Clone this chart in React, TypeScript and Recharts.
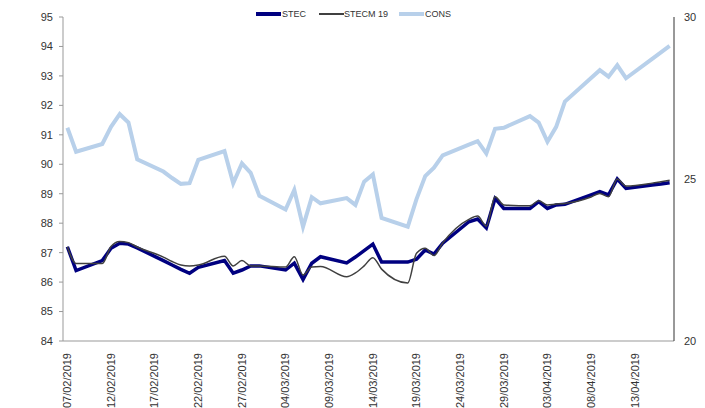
import React from "react";
import { LineChart, Line, XAxis, YAxis } from "recharts";

const dates = [
  "07/02/2019","08/02/2019","11/02/2019","12/02/2019","13/02/2019","14/02/2019","15/02/2019",
  "18/02/2019","19/02/2019","20/02/2019","21/02/2019","22/02/2019",
  "25/02/2019","26/02/2019","27/02/2019","28/02/2019","01/03/2019",
  "04/03/2019","05/03/2019","06/03/2019","07/03/2019","08/03/2019",
  "11/03/2019","12/03/2019","13/03/2019","14/03/2019","15/03/2019",
  "18/03/2019","19/03/2019","20/03/2019","21/03/2019","22/03/2019",
  "25/03/2019","26/03/2019","27/03/2019","28/03/2019","29/03/2019",
  "01/04/2019","02/04/2019","03/04/2019","04/04/2019","05/04/2019",
  "08/04/2019","09/04/2019","10/04/2019","11/04/2019","12/04/2019",
  "15/04/2019","16/04/2019","17/04/2019",
];

const stec = [
  87.20, 86.39, 86.73, 87.15, 87.32, 87.29, 87.16,
  86.73, 86.58, 86.43, 86.30, 86.50,
  86.73, 86.30, 86.41, 86.55, 86.55,
  86.41, 86.64, 86.09, 86.64, 86.86,
  86.65, 86.85, 87.07, 87.29, 86.68,
  86.68, 86.78, 87.09, 86.95, 87.32,
  88.05, 88.14, 87.84, 88.84, 88.50,
  88.50, 88.73, 88.50, 88.62, 88.64,
  88.96, 89.07, 88.96, 89.50, 89.18,
  89.30, 89.33, 89.37,
];

const stecm19 = [
  87.20, 86.63, 86.63, 87.21, 87.38, 87.34, 87.19,
  86.85, 86.70, 86.58, 86.55, 86.58,
  86.88, 86.55, 86.73, 86.55, 86.55,
  86.51, 86.86, 86.24, 86.51, 86.53,
  86.18, 86.31, 86.55, 86.83, 86.44,
  85.97, 86.98, 87.15, 86.90, 87.33,
  88.13, 88.24, 87.90, 88.90, 88.62,
  88.59, 88.76, 88.62, 88.65, 88.67,
  88.89, 89.01, 88.90, 89.50, 89.26,
  89.36, 89.41, 89.46,
];

const cons = [
  26.58, 25.84, 26.08, 26.61, 27.00, 26.74, 25.61,
  25.23, 25.03, 24.85, 24.87, 25.59,
  25.86, 24.87, 25.48, 25.19, 24.48,
  24.06, 24.66, 23.53, 24.44, 24.25,
  24.41, 24.20, 24.92, 25.14, 23.80,
  23.53, 24.38, 25.09, 25.35, 25.73,
  26.06, 26.17, 25.79, 26.55, 26.58,
  26.94, 26.74, 26.15, 26.61, 27.39,
  28.12, 28.36, 28.16, 28.51, 28.11,
  28.71, 28.91, 29.11,
];

const tickLabels = [
  "07/02/2019","12/02/2019","17/02/2019","22/02/2019","27/02/2019","04/03/2019",
  "09/03/2019","14/03/2019","19/03/2019","24/03/2019","29/03/2019","03/04/2019",
  "08/04/2019","13/04/2019",
];

const leftTicks = [84, 85, 86, 87, 88, 89, 90, 91, 92, 93, 94, 95];
const rightTicks = [20, 25, 30];

const toUTC = (s: string) => {
  const [d, m, y] = s.split("/").map(Number);
  return Date.UTC(y, m - 1, d);
};
const base = toUTC(dates[0]);
const dayOf = (s: string) => Math.round((toUTC(s) - base) / 86400000);

const data = dates.map((d, i) => ({
  day: dayOf(d),
  date: d,
  STEC: stec[i],
  STECM19: stecm19[i],
  CONS: cons[i],
}));

const xTicks = tickLabels.map(dayOf);
const labelOf: Record<number, string> = {};
tickLabels.forEach((t) => (labelOf[dayOf(t)] = t));

const FONT = "'Liberation Sans', Arial, sans-serif";

const XTick = (props: any) => {
  const { x, y, payload } = props;
  return (
    <text
      x={x}
      y={y}
      transform={`rotate(-90, ${x}, ${y})`}
      textAnchor="end"
      dy="0.35em"
      fontSize={11}
      fontFamily={FONT}
      fill="#333"
    >
      {labelOf[payload.value]}
    </text>
  );
};

const legendItems = [
  { name: "STEC", color: "#000080", width: 4, lineX: 256, textX: 282 },
  { name: "STECM 19", color: "#404040", width: 1.6, lineX: 319, textX: 344 },
  { name: "CONS", color: "#b8d0ea", width: 4, lineX: 399, textX: 425 },
];

export default function App() {
  return (
    <div style={{ position: "absolute", left: 0, top: 0, width: 705, height: 408, background: "#fff" }}>
      <LineChart
        width={705}
        height={408}
        data={data}
        margin={{ top: 17, right: 0, bottom: 0, left: 0 }}
      >
        <XAxis
          dataKey="day"
          type="number"
          domain={[-0.5, 69.5]}
          ticks={xTicks}
          interval={0}
          allowDataOverflow
          height={67}
          tickLine={false}
          axisLine={{ stroke: "#999" }}
          tick={<XTick />}
          tickMargin={6}
        />
        <YAxis
          yAxisId="left"
          orientation="left"
          domain={[84, 95]}
          ticks={leftTicks}
          interval={0}
          width={63}
          tickSize={4}
          tickMargin={6}
          axisLine={{ stroke: "#999" }}
          tickLine={{ stroke: "#999" }}
          tick={{ fontSize: 11, fontFamily: FONT, fill: "#333" }}
        />
        <YAxis
          yAxisId="right"
          orientation="right"
          domain={[20, 30]}
          ticks={rightTicks}
          interval={0}
          width={31}
          tickSize={0}
          tickMargin={10}
          axisLine={{ stroke: "#333" }}
          tickLine={false}
          tick={{ fontSize: 11, fontFamily: FONT, fill: "#333" }}
        />
        <Line
          yAxisId="left"
          dataKey="STEC"
          stroke="#000080"
          strokeWidth={3.5}
          dot={false}
          type="linear"
          isAnimationActive={false}
        />
        <Line
          yAxisId="left"
          dataKey="STECM19"
          stroke="#404040"
          strokeWidth={1.5}
          dot={false}
          type="monotone"
          isAnimationActive={false}
        />
        <Line
          yAxisId="right"
          dataKey="CONS"
          stroke="#b8d0ea"
          strokeWidth={4}
          dot={false}
          type="linear"
          isAnimationActive={false}
        />
      </LineChart>
      {legendItems.map((it) => (
        <React.Fragment key={it.name}>
          <div
            style={{
              position: "absolute",
              left: it.lineX,
              top: 14 - it.width / 2,
              width: 25,
              height: it.width,
              background: it.color,
            }}
          />
          <div
            style={{
              position: "absolute",
              left: it.textX,
              top: 8,
              fontSize: 9,
              lineHeight: "12px",
              fontFamily: FONT,
              color: "#333",
              whiteSpace: "nowrap",
            }}
          >
            {it.name}
          </div>
        </React.Fragment>
      ))}
    </div>
  );
}
